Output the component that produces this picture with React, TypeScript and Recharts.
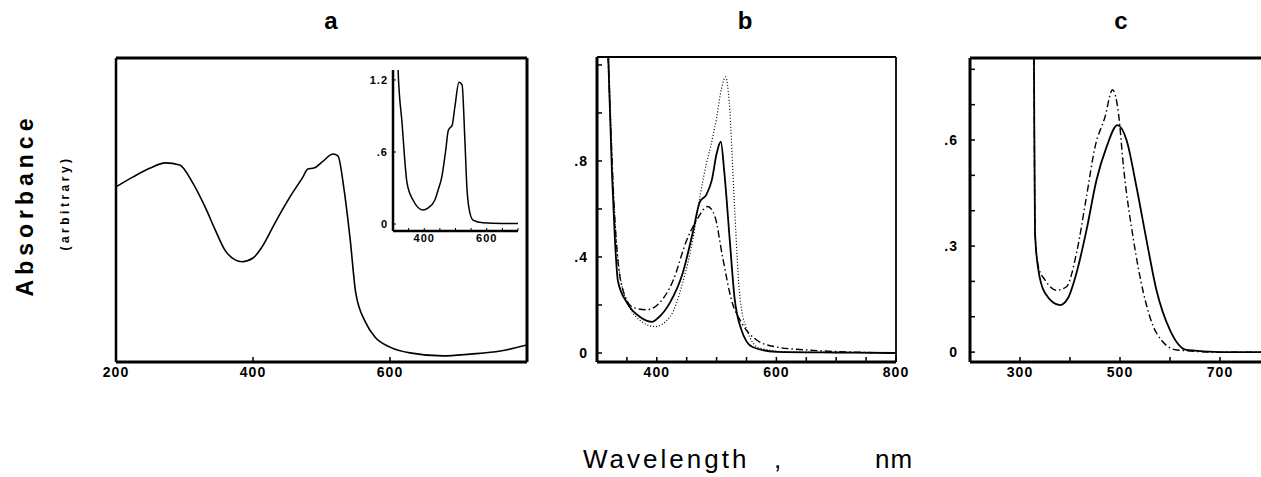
import React from 'react';
import { LineChart, Line, XAxis, YAxis, ReferenceLine } from 'recharts';

// ---- Panel a (main spectrum, arbitrary absorbance) ----
const A_WL = [200, 225, 250, 272, 293, 312, 330, 345, 359, 374, 384, 400, 413, 432, 454, 473, 480, 489, 501, 517, 524, 533, 542, 550, 564, 578, 600, 629, 677, 717, 761, 800];
const A_ABS = [0.576, 0.609, 0.638, 0.655, 0.648, 0.589, 0.51, 0.434, 0.368, 0.336, 0.33, 0.342, 0.378, 0.457, 0.543, 0.609, 0.635, 0.638, 0.658, 0.684, 0.678, 0.566, 0.4, 0.227, 0.132, 0.082, 0.049, 0.03, 0.02, 0.026, 0.036, 0.056];

// ---- Panel a inset ----
const IN_WL = [310, 316, 329, 345, 364, 396, 412, 434, 444, 456, 468, 477, 482, 489, 498, 511, 521, 530, 537, 542, 556, 588, 650, 700];
const IN_ABS = [2.0, 1.3, 0.84, 0.34, 0.2, 0.117, 0.133, 0.2, 0.28, 0.39, 0.6, 0.78, 0.8, 0.82, 0.975, 1.18, 1.16, 0.7, 0.28, 0.15, 0.033, 0.01, 0.005, 0.005];

// ---- Panel b ----
const B_SOLID_WL = [310, 318, 325, 330, 335, 350, 372, 392, 402, 422, 443, 460, 472, 483, 492, 500, 507, 513, 522, 530, 541, 560, 600, 700, 800];
const B_SOLID = [1.8, 1.3, 0.75, 0.47, 0.3, 0.21, 0.15, 0.13, 0.146, 0.21, 0.33, 0.5, 0.63, 0.66, 0.72, 0.83, 0.88, 0.75, 0.47, 0.23, 0.1, 0.025, 0.005, 0.002, 0];
const B_DOT_WL = [310, 320, 327, 333, 340, 355, 375, 397, 422, 443, 460, 472, 483, 490, 500, 508, 515, 521, 530, 538, 550, 572, 620, 800];
const B_DOT = [1.9, 1.2, 0.7, 0.45, 0.3, 0.19, 0.13, 0.11, 0.15, 0.29, 0.47, 0.65, 0.79, 0.86, 0.98, 1.1, 1.15, 1.05, 0.61, 0.26, 0.1, 0.02, 0.005, 0];
const B_DASH_WL = [310, 322, 330, 336, 342, 360, 383, 405, 427, 450, 467, 485, 497, 510, 525, 542, 567, 600, 655, 800];
const B_DASH = [1.9, 1.0, 0.55, 0.36, 0.275, 0.19, 0.18, 0.21, 0.3, 0.47, 0.555, 0.61, 0.57, 0.4, 0.22, 0.125, 0.054, 0.025, 0.012, 0];

// ---- Panel c ----
const C_SOLID_WL = [326, 328, 330, 336, 350, 380, 396, 413, 433, 453, 473, 495, 513, 533, 553, 573, 600, 633, 700, 800];
const C_SOLID = [1.2, 0.8, 0.34, 0.24, 0.167, 0.133, 0.153, 0.224, 0.345, 0.487, 0.58, 0.642, 0.6, 0.467, 0.317, 0.175, 0.062, 0.006, 0, 0];
const C_DASH_WL = [326, 328, 330, 337, 350, 373, 393, 413, 433, 450, 470, 485, 497, 507, 527, 547, 573, 613, 700, 800];
const C_DASH = [1.2, 0.8, 0.34, 0.24, 0.204, 0.175, 0.185, 0.28, 0.44, 0.58, 0.665, 0.742, 0.675, 0.524, 0.317, 0.167, 0.054, 0.006, 0, 0];

// ---- ticks / labels ----
const A_XTICKS = [200, 400, 600, 800];
const A_XLABELS = ['200', '400', '600'];
const IN_XTICKS = [300, 350, 400, 450, 500, 550, 600, 650, 700];
const IN_XLABELS = ['400', '600'];
const IN_YTICKS = [0, 0.6, 1.2];
const IN_YLABELS: Record<string, string> = { '0': '0', '0.6': '.6', '1.2': '1.2' };
const B_XTICKS = [300, 350, 400, 450, 500, 550, 600, 650, 700, 750, 800];
const B_XLABELS = ['400', '600', '800'];
const B_YTICKS = [0, 0.2, 0.4, 0.6, 0.8, 1.0, 1.2];
const B_YLABELS: Record<string, string> = { '0': '0', '0.4': '.4', '0.8': '.8' };
const C_XTICKS = [200, 300, 400, 500, 600, 700, 800];
const C_XLABELS = ['300', '500', '700'];
const C_YTICKS = [0, 0.1, 0.2, 0.3, 0.4, 0.5, 0.6, 0.7, 0.8];
const C_YLABELS: Record<string, string> = { '0': '0', '0.3': '.3', '0.6': '.6' };

// axis domains
const A_XDOM: [number, number] = [200, 800];
const A_YDOM: [number, number] = [0, 1];
const B_XDOM: [number, number] = [300, 800];
const B_YDOM: [number, number] = [-0.0375, 1.233];
const C_XDOM: [number, number] = [200, 800];
const C_YDOM: [number, number] = [-0.028, 0.832];

const pts = (xs: number[], ys: number[]) => xs.map((x, i) => ({ x, y: ys[i] }));
const xFmt = (labels: string[]) => (v: number) => (labels.includes(String(v)) ? String(v) : '');
const yFmt = (labels: Record<string, string>) => (v: number) => labels[String(v)] ?? '';

const FONT = "'Liberation Sans', Arial, sans-serif";
const tickStyle = (size: number) => ({ fill: '#000', fontSize: size, fontWeight: 700, fontFamily: FONT, letterSpacing: 1 });
const BLACK = '#000';

function App() {
  return (
    <div style={{ position: 'fixed', left: 0, top: 0, width: 1261, height: 477, overflow: 'hidden', background: '#fff' }}>
      {/* Panel a */}
      <div style={{ position: 'absolute', left: 76, top: 40 }}>
        <LineChart width={470} height={345} margin={{ top: 18, right: 19, bottom: 0, left: 0 }}>
          <XAxis dataKey="x" type="number" domain={A_XDOM} ticks={A_XTICKS} tickFormatter={xFmt(A_XLABELS)} height={23}
            tickSize={-5} tickMargin={10} tick={tickStyle(14)} axisLine={{ stroke: BLACK, strokeWidth: 3 }} tickLine={{ stroke: BLACK, strokeWidth: 1.5 }} allowDataOverflow />
          <YAxis dataKey="y" type="number" domain={A_YDOM} width={40} tick={false} tickLine={false} axisLine={{ stroke: BLACK, strokeWidth: 2.5 }} allowDataOverflow />
          <ReferenceLine y={A_YDOM[1]} stroke={BLACK} strokeWidth={3} />
          <ReferenceLine x={A_XDOM[1]} stroke={BLACK} strokeWidth={3} />
          <Line data={pts(A_WL, A_ABS)} dataKey="y" type="monotone" stroke={BLACK} strokeWidth={1.6} dot={false} isAnimationActive={false} />
        </LineChart>
      </div>

      {/* Panel a inset */}
      <div style={{ position: 'absolute', left: 350, top: 60 }}>
        <LineChart width={175} height={190} margin={{ top: 10, right: 7, bottom: 0, left: 0 }}>
          <XAxis dataKey="x" type="number" domain={[300, 700]} ticks={IN_XTICKS} tickFormatter={xFmt(IN_XLABELS)} height={19}
            tickSize={-3} tickMargin={6} tick={tickStyle(11)} axisLine={{ stroke: BLACK, strokeWidth: 2.5 }} tickLine={{ stroke: BLACK, strokeWidth: 1 }} allowDataOverflow />
          <YAxis dataKey="y" type="number" domain={[-0.058, 1.283]} ticks={IN_YTICKS} tickFormatter={yFmt(IN_YLABELS)} width={43}
            tickSize={-3} tickMargin={8} tick={tickStyle(11)} axisLine={{ stroke: BLACK, strokeWidth: 2.5 }} tickLine={{ stroke: BLACK, strokeWidth: 1 }} allowDataOverflow />
          <Line data={pts(IN_WL, IN_ABS)} dataKey="y" type="monotone" stroke={BLACK} strokeWidth={1.5} dot={false} isAnimationActive={false} />
        </LineChart>
      </div>

      {/* Panel b */}
      <div style={{ position: 'absolute', left: 560, top: 40 }}>
        <LineChart width={360} height={345} margin={{ top: 17, right: 24, bottom: 0, left: 0 }}>
          <XAxis dataKey="x" type="number" domain={B_XDOM} ticks={B_XTICKS} tickFormatter={xFmt(B_XLABELS)} height={23}
            tickSize={-5} tickMargin={10} tick={tickStyle(14)} axisLine={{ stroke: BLACK, strokeWidth: 3 }} tickLine={{ stroke: BLACK, strokeWidth: 1.5 }} allowDataOverflow />
          <YAxis dataKey="y" type="number" domain={B_YDOM} ticks={B_YTICKS} tickFormatter={yFmt(B_YLABELS)} width={37}
            tickSize={-5} tickMargin={14} tick={tickStyle(14)} axisLine={{ stroke: BLACK, strokeWidth: 3 }} tickLine={{ stroke: BLACK, strokeWidth: 1.5 }} allowDataOverflow />
          <ReferenceLine y={B_YDOM[1]} stroke={BLACK} strokeWidth={1.8} />
          <ReferenceLine x={B_XDOM[1]} stroke={BLACK} strokeWidth={1.8} />
          <Line data={pts(B_DOT_WL, B_DOT)} dataKey="y" type="monotone" stroke={BLACK} strokeWidth={1.2} strokeDasharray="1 2" dot={false} isAnimationActive={false} />
          <Line data={pts(B_DASH_WL, B_DASH)} dataKey="y" type="monotone" stroke={BLACK} strokeWidth={1.4} strokeDasharray="7 3 1.5 3" dot={false} isAnimationActive={false} />
          <Line data={pts(B_SOLID_WL, B_SOLID)} dataKey="y" type="monotone" stroke={BLACK} strokeWidth={1.8} dot={false} isAnimationActive={false} />
        </LineChart>
      </div>

      {/* Panel c */}
      <div style={{ position: 'absolute', left: 930, top: 40 }}>
        <LineChart width={345} height={345} margin={{ top: 18, right: 5, bottom: 0, left: 0 }}>
          <XAxis dataKey="x" type="number" domain={C_XDOM} ticks={C_XTICKS} tickFormatter={xFmt(C_XLABELS)} height={23}
            tickSize={-5} tickMargin={10} tick={tickStyle(14)} axisLine={{ stroke: BLACK, strokeWidth: 3 }} tickLine={{ stroke: BLACK, strokeWidth: 1.5 }} allowDataOverflow />
          <YAxis dataKey="y" type="number" domain={C_YDOM} ticks={C_YTICKS} tickFormatter={yFmt(C_YLABELS)} width={40}
            tickSize={-5} tickMargin={17} tick={tickStyle(14)} axisLine={{ stroke: BLACK, strokeWidth: 3 }} tickLine={{ stroke: BLACK, strokeWidth: 1.5 }} allowDataOverflow />
          <ReferenceLine y={C_YDOM[1]} stroke={BLACK} strokeWidth={3} />
          <Line data={pts(C_DASH_WL, C_DASH)} dataKey="y" type="monotone" stroke={BLACK} strokeWidth={1.4} strokeDasharray="7 3 1.5 3" dot={false} isAnimationActive={false} />
          <Line data={pts(C_SOLID_WL, C_SOLID)} dataKey="y" type="monotone" stroke={BLACK} strokeWidth={1.8} dot={false} isAnimationActive={false} />
        </LineChart>
      </div>

      {/* Text overlay */}
      <svg width={1261} height={477} style={{ position: 'absolute', left: 0, top: 0, pointerEvents: 'none' }}>
        <g fontFamily={FONT} fill="#000">
          <text x={331} y={29} textAnchor="middle" fontSize={24} fontWeight={700}>a</text>
          <text x={745} y={29} textAnchor="middle" fontSize={24} fontWeight={700}>b</text>
          <text x={1121} y={29} textAnchor="middle" fontSize={24} fontWeight={700}>c</text>
          <text transform="translate(33,205) rotate(-90)" textAnchor="middle" fontSize={23} fontWeight={700} letterSpacing={5}>Absorbance</text>
          <text transform="translate(69,203) rotate(-90)" textAnchor="middle" fontSize={12} fontWeight={700} letterSpacing={3.5}>(arbitrary)</text>
          <text x={583} y={468} fontSize={26} letterSpacing={3}>Wavelength</text>
          <text x={774} y={468} fontSize={26}>,</text>
          <text x={875} y={468} fontSize={26} letterSpacing={1}>nm</text>
        </g>
      </svg>
    </div>
  );
}

export default App;
